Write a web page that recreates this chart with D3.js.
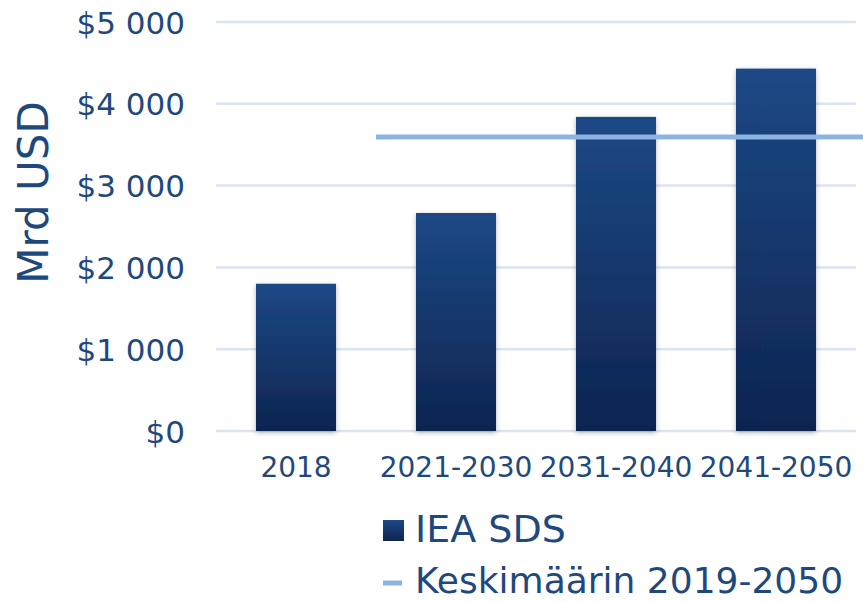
<!DOCTYPE html>
<html>
<head>
<meta charset="utf-8">
<script src="https://cdn.jsdelivr.net/npm/d3@7"></script>
<style>
  body { margin: 0; background: #fff; }
  svg text { font-family: "DejaVu Sans", Verdana, sans-serif; fill: #1f497d; }
</style>
</head>
<body>
<div id="chart"></div>
<script>
// Data
var categories = ['2018', '2021-2030', '2031-2040', '2041-2050'];
var values = [1800, 2665, 3840, 4430];
var averageValue = 3595;
var averageFrom = '2021-2030';   // line starts at the left edge of this band
var yTicks = [0, 1000, 2000, 3000, 4000, 5000];
var seriesName = 'IEA SDS';
var averageName = 'Keskimäärin 2019-2050';
var yTitle = 'Mrd USD';

var width = 863, height = 602;
var svg = d3.select('#chart').append('svg')
  .attr('width', width)
  .attr('height', height);

var defs = svg.append('defs');
var grad = defs.append('linearGradient')
  .attr('id', 'barGrad')
  .attr('x1', 0).attr('y1', 0).attr('x2', 0).attr('y2', 1);
grad.append('stop').attr('offset', '0%').attr('stop-color', '#1c4986');
grad.append('stop').attr('offset', '100%').attr('stop-color', '#0e2450');

var shadow = defs.append('filter')
  .attr('id', 'shadow')
  .attr('x', '-20%').attr('y', '-10%').attr('width', '140%').attr('height', '120%');
shadow.append('feDropShadow')
  .attr('dx', 0).attr('dy', 1.5)
  .attr('stdDeviation', 2.5)
  .attr('flood-color', '#000')
  .attr('flood-opacity', 0.3);

// scales
var x = d3.scaleBand()
  .domain(categories)
  .range([216, 856])
  .paddingInner(0.5)
  .paddingOuter(0.25);

var y = d3.scaleLinear()
  .domain([0, 5000])
  .range([431, 22]);

// gridlines
svg.append('g')
  .selectAll('line')
  .data(yTicks)
  .join('line')
    .attr('x1', 216)
    .attr('x2', 856)
    .attr('y1', d => y(d))
    .attr('y2', d => y(d))
    .attr('stroke', '#dbe5f1')
    .attr('stroke-width', 2.5);

// y axis labels
var fmt = d => '$' + d3.format(',')(d).replace(/,/g, '\u00a0');
var yAxis = svg.append('g')
  .attr('transform', 'translate(185,0)')
  .call(d3.axisLeft(y).tickValues(yTicks).tickSize(0).tickPadding(0).tickFormat(fmt));
yAxis.select('.domain').remove();
yAxis.selectAll('text')
  .attr('dy', '0.36em')
  .style('font-size', '31px')
  .style('fill', '#1f497d');

// y title
svg.append('text')
  .attr('transform', 'translate(48,' + ((y(0) + y(5000)) / 2 - 34) + ') rotate(-90)')
  .attr('text-anchor', 'middle')
  .style('font-size', '42px')
  .text(yTitle);

// bars
svg.append('g')
  .selectAll('rect')
  .data(values)
  .join('rect')
    .attr('x', (d, i) => x(categories[i]))
    .attr('width', x.bandwidth())
    .attr('y', d => y(d))
    .attr('height', d => y(0) - y(d))
    .attr('fill', 'url(#barGrad)')
    .attr('filter', 'url(#shadow)');

// average line, from the start of its band to the right edge
var avgStart = x(averageFrom) - x.step() * x.paddingInner() / 2;
svg.append('line')
  .attr('x1', avgStart)
  .attr('x2', width)
  .attr('y1', y(averageValue))
  .attr('y2', y(averageValue))
  .attr('stroke', '#8db3e2')
  .attr('stroke-width', 5);

// x axis labels
var xAxis = svg.append('g')
  .attr('transform', 'translate(0,' + y(0) + ')')
  .call(d3.axisBottom(x).tickSize(0).tickPadding(0));
xAxis.select('.domain').remove();
xAxis.selectAll('text')
  .attr('y', 46)
  .attr('dy', 0)
  .style('font-size', '28px')
  .style('fill', '#1f497d');

// legend
var legend = svg.append('g').attr('transform', 'translate(383,0)');
legend.append('rect')
  .attr('x', 0).attr('y', 520)
  .attr('width', 21).attr('height', 21)
  .attr('fill', 'url(#barGrad)');
legend.append('text')
  .attr('x', 32).attr('y', 542)
  .style('font-size', '38px')
  .text(seriesName);
legend.append('line')
  .attr('x1', 0).attr('x2', 19)
  .attr('y1', 583).attr('y2', 583)
  .attr('stroke', '#8db3e2')
  .attr('stroke-width', 5);
legend.append('text')
  .attr('x', 32).attr('y', 593)
  .style('font-size', '36px')
  .text(averageName);
</script>
</body>
</html>
